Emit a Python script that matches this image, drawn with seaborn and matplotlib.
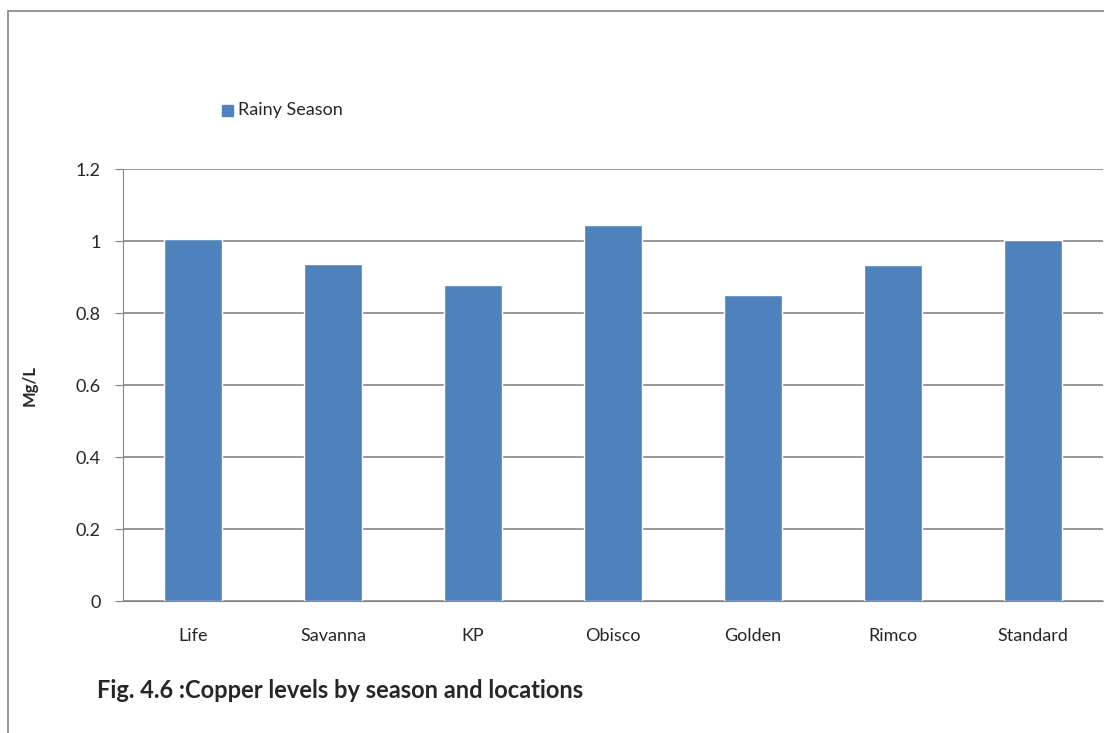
import matplotlib
matplotlib.use("Agg")
import matplotlib.pyplot as plt
import seaborn as sns
import pandas as pd
from matplotlib.patches import Rectangle

locations = ["Life", "Savanna", "KP", "Obisco", "Golden", "Rimco", "Standard"]
rainy = [1.005, 0.936, 0.878, 1.044, 0.85, 0.933, 1.003]
yticks = [0, 0.2, 0.4, 0.6, 0.8, 1, 1.2]

df = pd.DataFrame({"Location": locations, "Copper": rainy, "Season": "Rainy Season"})

sns.set_style("white")
plt.rcParams["font.family"] = ["Lato", "DejaVu Sans"]

fig = plt.figure(figsize=(11.04, 7.33), dpi=100)
ax = fig.add_axes([123 / 1104, 1 - 601 / 733, (1103 - 123) / 1104, (601 - 169) / 733])

sns.barplot(data=df, x="Location", y="Copper", hue="Season",
            palette=["#4f81bd"], width=0.41, saturation=1, ax=ax, legend=False)

ax.set_ylim(0, 1.2)
ax.set_yticks(yticks)
ax.set_yticklabels(["0", "0.2", "0.4", "0.6", "0.8", "1", "1.2"])
ax.set_xlim(-0.5, 6.5)
ax.yaxis.grid(True, color="#868686", linewidth=1.2)
ax.set_axisbelow(True)
for s in ["top", "right"]:
    ax.spines[s].set_visible(False)
ax.spines["left"].set_color("#868686")
ax.spines["bottom"].set_color("#868686")
ax.tick_params(axis="y", left=True, length=6, color="#868686", labelsize=13, pad=10)
ax.tick_params(axis="x", bottom=False, labelsize=13, pad=16)
ax.set_xlabel("")
ax.set_ylabel("")

fig.text(30 / 1104, 1 - 385 / 733, "Mg/L", fontsize=12, fontweight="bold",
         rotation=90, va="center", ha="center")

# legend
fig.patches.append(Rectangle((222 / 1104, 1 - 116 / 733), 11 / 1104, 11 / 733,
                             transform=fig.transFigure, color="#4f81bd"))
fig.text(238 / 1104, 1 - 110 / 733, "Rainy Season", fontsize=13, va="center", ha="left")

# outer frame
fig.patches.append(Rectangle((8 / 1104, -0.05), 1.1, 1 - 11 / 733 + 0.05,
                             transform=fig.transFigure, fill=False,
                             edgecolor="#868686", linewidth=1.2))

fig.text(97 / 1104, 1 - 690 / 733, "Fig. 4.6 :Copper levels by season and locations",
         fontsize=17, fontweight="bold", va="center", ha="left")

fig.savefig("out.png", dpi=100)
